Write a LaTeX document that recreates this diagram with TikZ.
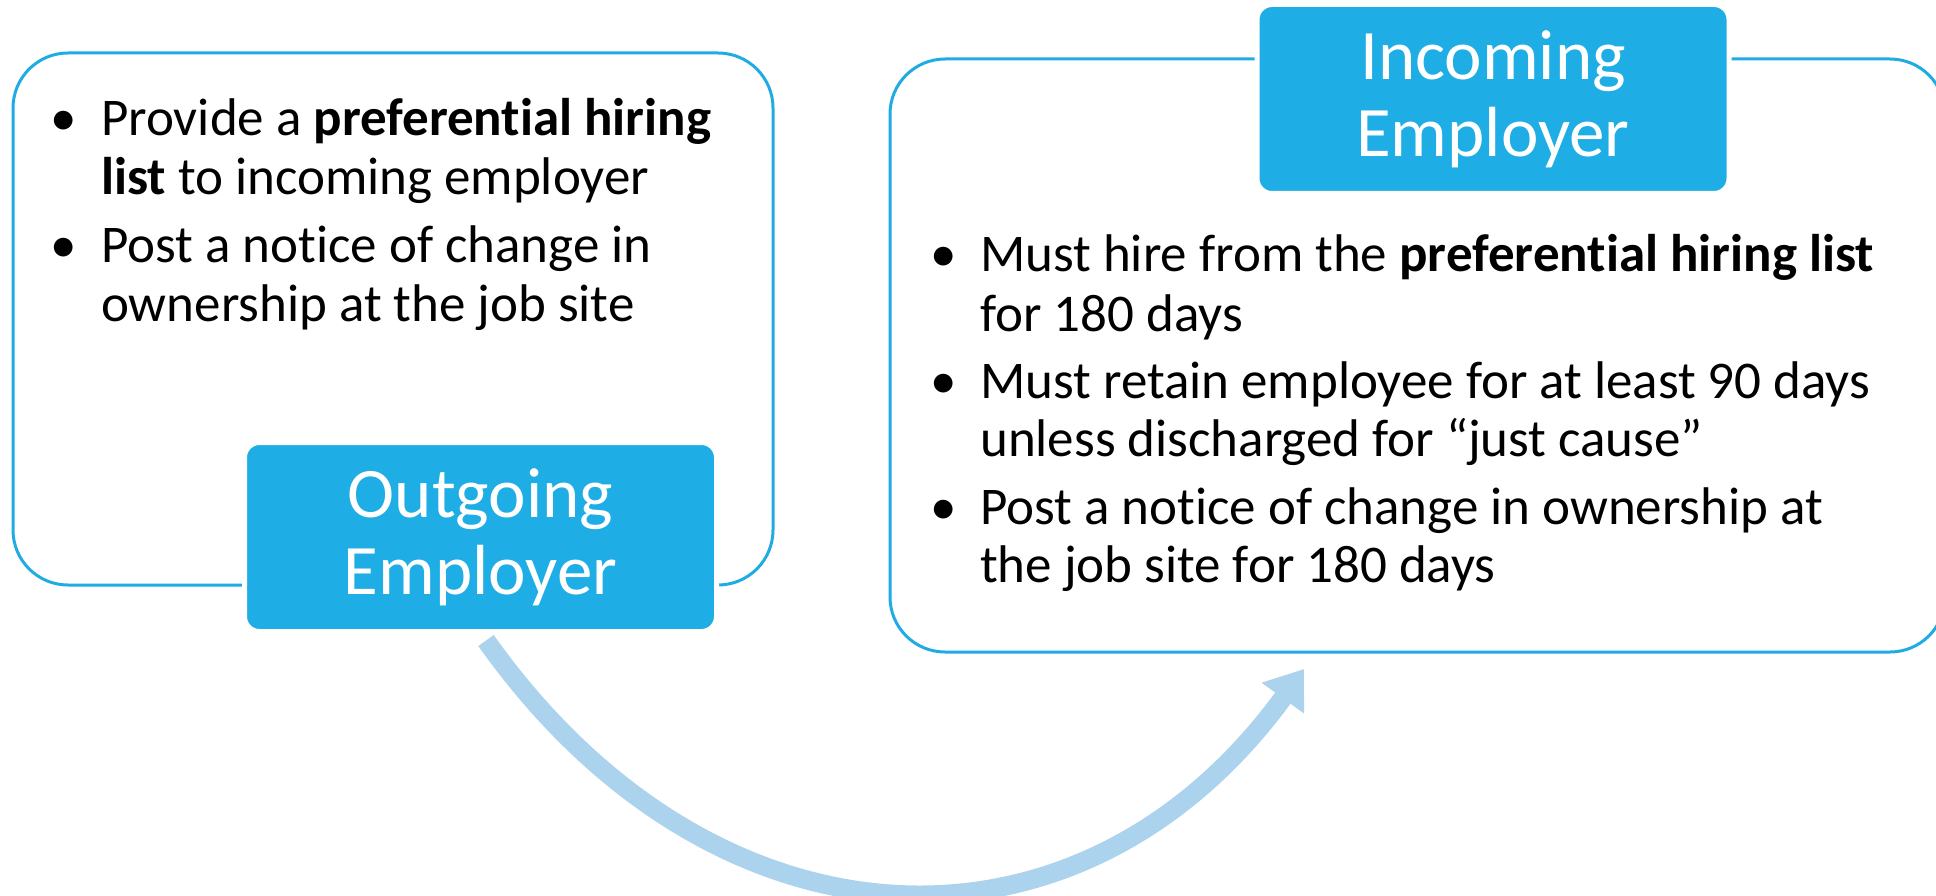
\documentclass[tikz,border=0pt]{standalone}
\usepackage{fontspec}
\setmainfont{Carlito}[Ligatures=NoCommon]
\usetikzlibrary{arrows.meta}
\definecolor{boxline}{RGB}{32,172,227}
\definecolor{boxfill}{RGB}{30,173,228}
\definecolor{arrowblue}{RGB}{172,211,238}
\begin{document}
\begin{tikzpicture}[x=1pt,y=-1pt,
  panel/.style={draw=boxline, line width=3pt, rounded corners=55pt, inner sep=0pt},
  titlebox/.style={fill=boxfill, draw=white, line width=5pt, rounded corners=15pt,
    minimum width=472pt, minimum height=189pt, inner sep=0pt, text=white, align=center,
    font=\fontsize{71}{77}\selectfont},
  bodyline/.style={anchor=base west, inner sep=0pt, font=\fontsize{53}{59}\selectfont},
  bulletdot/.style={anchor=base, inner sep=0pt, font=\fontsize{53}{59}\selectfont},
  flow/.style={draw=arrowblue, line width=19pt, -{Triangle[length=36pt,width=50pt]}}
]
\useasboundingbox (0,0) rectangle (1936,896);
% panels
\node[panel, minimum width=760pt, minimum height=532pt] (lp) at (393,319) {};
\node[panel, minimum width=1055pt, minimum height=593pt] (rp) at (1417.5,355.5) {};
% left bullets
\node[bulletdot] (lb1) at (64,136) {•};
\node[bodyline] (l1) at (101,136) {Provide a \textbf{preferential hiring}};
\node[bodyline] (l2) at (101,195) {\textbf{list} to incoming employer};
\node[bulletdot] (lb2) at (64,262) {•};
\node[bodyline] (l3) at (101,262) {Post a notice of change in};
\node[bodyline] (l4) at (101,321) {ownership at the job site};
% right bullets
\node[bulletdot] (rb1) at (944,272) {•};
\node[bodyline] (r1) at (980,272) {Must hire from the \textbf{preferential hiring list}};
\node[bodyline] (r2) at (980,331) {for 180 days};
\node[bulletdot] (rb2) at (944,398) {•};
\node[bodyline] (r3) at (980,398) {Must retain employee for at least 90 days};
\node[bodyline] (r4) at (980,456) {unless discharged for “just cause”};
\node[bulletdot] (rb3) at (944,524) {•};
\node[bodyline] (r5) at (980,524) {Post a notice of change in ownership at};
\node[bodyline] (r6) at (980,582) {the job site for 180 days};
% title boxes
\node[titlebox] (out) at (480.5,537) {Outgoing\\Employer};
\node[titlebox] (inc) at (1493,99) {Incoming\\Employer};
% arrow
\coordinate (as) at ([xshift=5.5pt,yshift=-6.5pt]out.south);
\coordinate (ae) at (1304,669);
\draw[flow] (as) .. controls (714,962) and (1080,977) .. (ae);
\end{tikzpicture}
\end{document}
